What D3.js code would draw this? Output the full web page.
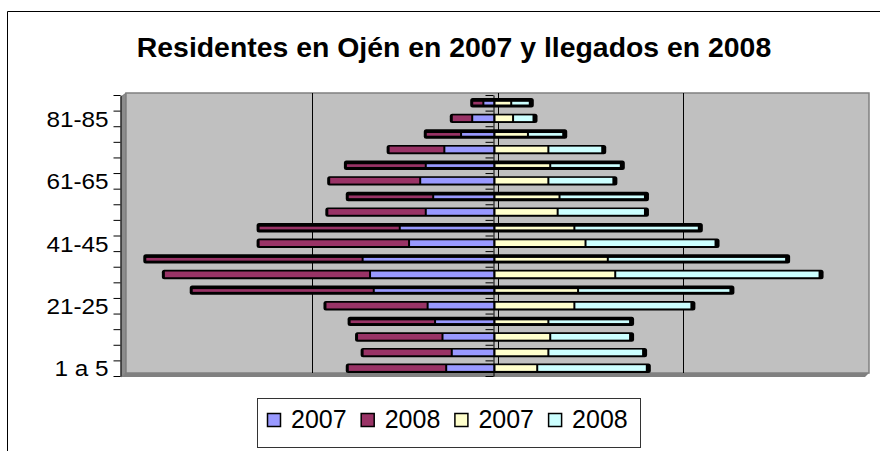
<!DOCTYPE html>
<html>
<head>
<meta charset="utf-8">
<script src="https://cdn.jsdelivr.net/npm/d3@7/dist/d3.min.js"></script>
<style>
  body { margin: 0; background: #fff; }
  svg { display: block; font-family: Arial, "Liberation Sans", sans-serif; }
</style>
</head>
<body>
<div id="chart"></div>
<script>
const ageGroups = ['1 a 5', '6-10', '11-15', '16-20', '21-25', '26-30', '31-35', '36-40', '41-45',
                   '46-50', '51-55', '56-60', '61-65', '66-70', '71-75', '76-80', '81-85', '86-90'];
// left side (blue, maroon), right side (yellow, cyan)
const left2007  = [26, 23, 28, 32, 36, 65, 67, 71, 46, 51, 37, 33, 40, 37, 27, 18, 12, 6];
const left2008  = [53, 48, 46, 46, 55, 98, 111, 117, 81, 76, 53, 46, 49, 43, 30, 19, 11, 6];
const right2007 = [23, 29, 30, 29, 43, 45, 65, 61, 49, 43, 34, 35, 29, 30, 29, 18, 10, 9];
const right2008 = [59, 51, 43, 44, 63, 82, 110, 96, 70, 67, 47, 46, 35, 38, 29, 19, 11, 10];
const legendLabels = ['2007', '2008', '2007', '2008'];
const valueTicks = [-100, 0, 100];

const colors = ['#9999ff', '#993366', '#ffffcc', '#ccffff'];

const width = 880, height = 451;
const wall = {left: 126, right: 869, top: 93, bottom: 373};
const depth = 4;

const svg = d3.select('#chart').append('svg').attr('width', width).attr('height', height);

// chart frame (cut off at right / bottom)
svg.append('path').attr('d', 'M7.5,' + height + 'V11.5H' + width)
    .attr('fill', 'none').attr('stroke', '#000');

svg.append('text').attr('x', 454).attr('y', 57).attr('text-anchor', 'middle')
    .attr('font-size', 28.4).attr('font-weight', 'bold')
    .text('Residentes en Ojén en 2007 y llegados en 2008');

const x = d3.scaleLinear().domain([-200, 200]).range([wall.left, wall.right]);
const xb = (v) => x(v) - 3;   // bars sit in front of the back wall

const y = d3.scaleBand().domain(ageGroups).range([wall.bottom + 3, wall.top + 2]);
const yEdge = d3.scaleLinear().domain([0, ageGroups.length]).range([wall.bottom + 3, wall.top + 2]);

// walls
svg.append('polygon')
    .attr('points', [[wall.left - 5, wall.top + depth], [wall.left, wall.top], [wall.left, wall.bottom], [wall.left - 5, wall.bottom + depth]].join(' '))
    .attr('fill', '#8c8c8c').attr('stroke', '#777');
svg.append('rect')
    .attr('x', wall.left).attr('y', wall.top)
    .attr('width', wall.right - wall.left).attr('height', wall.bottom - wall.top)
    .attr('fill', '#c0c0c0').attr('stroke', '#808080').attr('stroke-width', 1.5);
svg.append('polygon')
    .attr('points', [[wall.left, wall.bottom], [wall.right, wall.bottom], [wall.right - 4, wall.bottom + depth], [wall.left - 5, wall.bottom + depth]].join(' '))
    .attr('fill', '#808080');

svg.append('g').selectAll('line').data(valueTicks).join('line')
    .attr('x1', (d) => Math.round(x(d)) + 0.5).attr('x2', (d) => Math.round(x(d)) + 0.5)
    .attr('y1', wall.top).attr('y2', wall.bottom)
    .attr('stroke', '#000');

// bars
const rows = ageGroups.map((g, i) => {
    const a = left2007[i], b = left2008[i], c = right2007[i], d = right2008[i];
    return {
        g: g, i: i,
        segs: [[-a, 0, colors[0]], [-a - b, -a, colors[1]], [0, c, colors[2]], [c, c + d, colors[3]]],
        lo: -a - b, hi: c + d
    };
});

const bars = svg.append('g').selectAll('g').data(rows).join('g')
    .attr('transform', (d) => 'translate(0,' + (y(d.g) + y.bandwidth() / 2) + ')');

bars.append('rect')
    .attr('x', (d) => xb(d.lo) - 2).attr('y', -4.7)
    .attr('width', (d) => xb(d.hi) - xb(d.lo) + 6).attr('height', 9.4)
    .attr('rx', 2.5).attr('fill', '#000');

bars.selectAll('rect.seg').data((d) => d.segs.map((s) => ({s: s, thin: d.i % 2 === 1 && d.i > 1})))
    .join('rect').attr('class', 'seg')
    .attr('x', (d) => xb(d.s[0]) + 1)
    .attr('width', (d) => Math.max(0, xb(d.s[1]) - xb(d.s[0]) - 2))
    .attr('y', (d) => d.thin ? -1 : -3)
    .attr('height', (d) => d.thin ? 2.7 : 5.7)
    .attr('fill', (d) => d.s[2]);

// category axis at zero
svg.append('g').attr('transform', 'translate(' + (Math.round(xb(0)) - 1.5) + ',0)')
    .call(d3.axisLeft(yEdge).ticks(ageGroups.length).tickSize(8).tickSizeOuter(0).tickFormat(''))
    .call((g) => g.selectAll('line,path').attr('stroke', '#000'));

// left ticks and labels
svg.append('g').attr('transform', 'translate(120.5,0)')
    .call(d3.axisLeft(yEdge).ticks(ageGroups.length).tickSize(7).tickSizeOuter(0).tickFormat(''));

svg.append('g').attr('transform', 'translate(120.5,1)')
    .call(d3.axisLeft(y).tickSize(0).tickPadding(11)
        .tickFormat((d, i) => i % 4 === 0 ? d : ''))
    .call((g) => g.select('.domain').remove())
    .call((g) => g.selectAll('text')
        .attr('font-size', 22.5).attr('font-family', 'Arial, "Liberation Sans", sans-serif')
        .attr('fill', '#000').attr('transform', 'scale(1.08,1)'));

// legend
const legend = svg.append('g');
legend.append('rect').attr('x', 257.5).attr('y', 398.5).attr('width', 383).attr('height', 49)
    .attr('fill', '#fff').attr('stroke', '#333');
const items = legend.selectAll('g').data(legendLabels).join('g')
    .attr('transform', (d, i) => 'translate(' + (267 + i * 93.7) + ',0)');
items.append('rect').attr('x', 0.5).attr('y', 413.5).attr('width', 13).attr('height', 13)
    .attr('fill', (d, i) => colors[i]).attr('stroke', '#000').attr('stroke-width', 1.5);
items.append('text').attr('x', 24).attr('y', 428).attr('font-size', 25).text((d) => d);
</script>
</body>
</html>
